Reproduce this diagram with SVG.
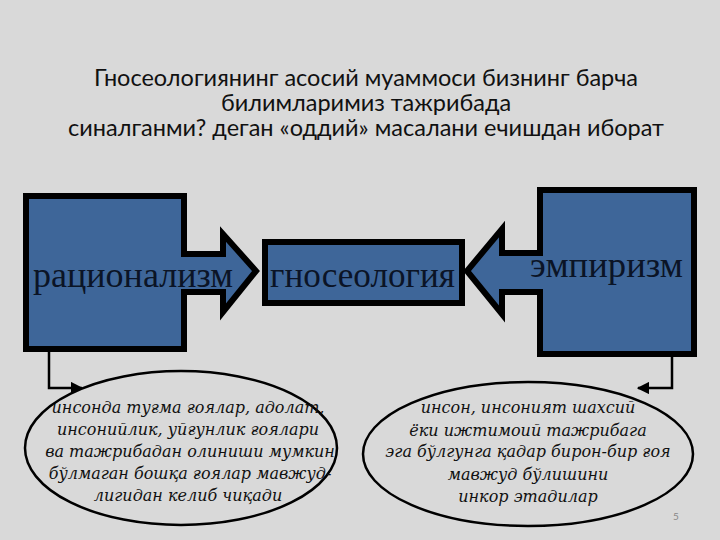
<svg xmlns="http://www.w3.org/2000/svg" width="720" height="540" viewBox="0 0 720 540">
<defs>
<style>
.title{font-family:Lato,"Open Sans","Liberation Sans",sans-serif;font-size:23.5px;fill:#111;text-anchor:middle}
.shape{fill:#3e6699;stroke:#000;stroke-width:6;stroke-linejoin:miter}
.lbl{font-family:"Liberation Serif","DejaVu Serif",serif;font-size:36px;fill:#0b1426}
.ell{fill:none;stroke:#000;stroke-width:2.5}
.et{font-family:"DejaVu Serif","Liberation Serif",serif;font-style:italic;font-size:16px;fill:#111;text-anchor:middle}
.conn{fill:none;stroke:#000;stroke-width:2.5}
</style>
<marker id="ah" viewBox="0 0 10 10" refX="9" refY="5" markerWidth="5" markerHeight="5" orient="auto">
<path d="M0,0 L10,5 L0,10 Z" fill="#000"/>
</marker>
</defs>
<rect width="720" height="540" fill="#d9d9d9"/>
<g id="title">
<text class="title" x="366" y="86">Гносеологиянинг асосий муаммоси бизнинг барча</text>
<text class="title" x="366" y="111">билимларимиз тажрибада</text>
<text class="title" x="366" y="136">синалганми? деган «оддий» масалани ечишдан иборат</text>
</g>
<g id="rationalism">
<path class="shape" d="M26,196 H184 V254 H223 V234 L256,271 L223,312 V292 H184 V349 H26 Z"/>
<text class="lbl" x="33" y="287" textLength="200" lengthAdjust="spacingAndGlyphs">рационализм</text>
</g>
<g id="gnoseology">
<rect class="shape" x="265" y="242" width="197" height="61"/>
<text class="lbl" x="270" y="287" textLength="185" lengthAdjust="spacingAndGlyphs">гносеология</text>
</g>
<g id="empiricism">
<path class="shape" d="M540,190 H694 V354 H540 V292 H502 V314 L467,271 L502,229 V253 H540 Z"/>
<text class="lbl" x="530" y="277" textLength="153" lengthAdjust="spacingAndGlyphs">эмпиризм</text>
</g>
<g id="connectors">
<polyline class="conn" points="49,352 49,388 82,388" marker-end="url(#ah)"/>
<polyline class="conn" points="672,357 672,388 638,388" marker-end="url(#ah)"/>
</g>
<g id="left-ellipse">
<ellipse class="ell" cx="181" cy="448" rx="156" ry="77"/>
<text class="et" x="188" y="413">инсонда туғма ғоялар, адолат,</text>
<text class="et" x="188" y="435">инсонийлик, уйғунлик ғоялари</text>
<text class="et" x="190" y="457">ва тажрибадан олиниши мумкин</text>
<text class="et" x="190" y="479">бўлмаган бошқа ғоялар мавжуд-</text>
<text class="et" x="188" y="501">лигидан келиб чиқади</text>
</g>
<g id="right-ellipse">
<ellipse class="ell" cx="528" cy="454" rx="165" ry="72"/>
<text class="et" x="528" y="413">инсон, инсоният шахсий</text>
<text class="et" x="528" y="436">ёки ижтимоий тажрибага</text>
<text class="et" x="528" y="457">эга бўлгунга қадар бирон-бир ғоя</text>
<text class="et" x="528" y="480">мавжуд бўлишини</text>
<text class="et" x="528" y="502">инкор этадилар</text>
</g>
<text x="673" y="520" font-family="Lato,'Liberation Sans',sans-serif" font-size="10" fill="#888">5</text>
</svg>
